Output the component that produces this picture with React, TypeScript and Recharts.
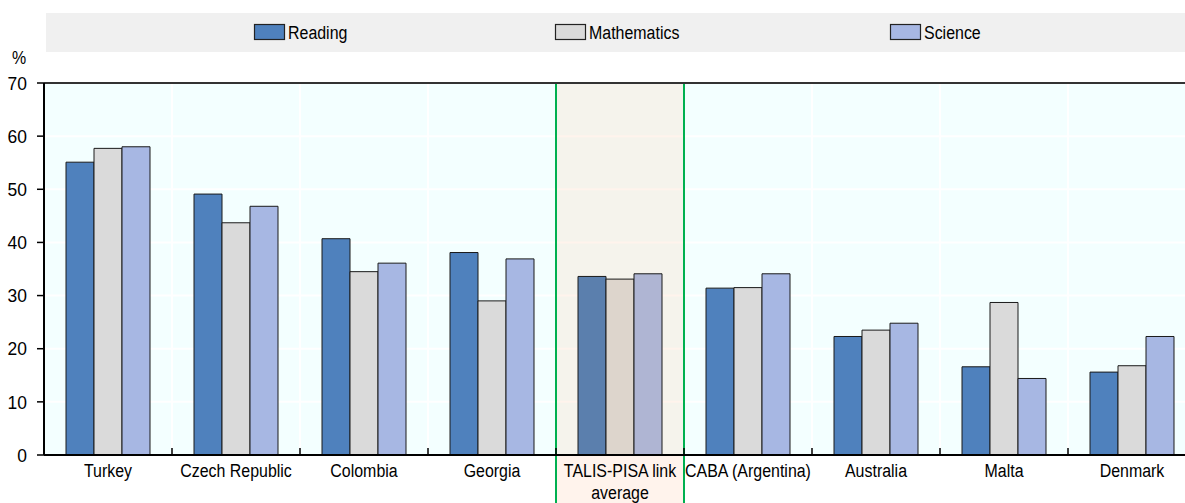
import React from 'react';
import { BarChart, Bar, XAxis, YAxis, CartesianGrid, ReferenceArea, ReferenceLine, Cell } from 'recharts';

const categories = [
  'Turkey',
  'Czech Republic',
  'Colombia',
  'Georgia',
  'TALIS-PISA link average',
  'CABA (Argentina)',
  'Australia',
  'Malta',
  'Denmark',
];
const reading = [55.1, 49.1, 40.7, 38.1, 33.6, 31.4, 22.3, 16.6, 15.6];
const mathematics = [57.7, 43.7, 34.5, 29.0, 33.1, 31.5, 23.5, 28.7, 16.8];
const science = [58.0, 46.8, 36.1, 36.9, 34.1, 34.1, 24.8, 14.4, 22.3];
const yTicks = [0, 10, 20, 30, 40, 50, 60, 70];

const averageLabel = 'TALIS-PISA link average';
const tickLines: Record<string, string[]> = {
  'TALIS-PISA link average': ['TALIS-PISA link', 'average'],
};

const series = [
  { key: 'reading', name: 'Reading', color: '#4F81BD', avgColor: '#5B7FAD' },
  { key: 'mathematics', name: 'Mathematics', color: '#DADADA', avgColor: '#DDD5CC' },
  { key: 'science', name: 'Science', color: '#A7B7E3', avgColor: '#AFB5D3' },
];

const data = categories.map((name, i) => ({
  name,
  reading: reading[i],
  mathematics: mathematics[i],
  science: science[i],
}));

const FONT = "'Liberation Sans', Arial, sans-serif";
// the source uses a condensed face; squeeze Liberation Sans horizontally
const SQUEEZE = 0.84;

const CategoryTick = (props: any) => {
  const { x, y, payload } = props;
  const half = payload.offset ?? 64;
  const lines = tickLines[payload.value] ?? [payload.value];
  return (
    <g>
      <line x1={x - half} x2={x - half} y1={y} y2={y - 7} stroke="#000" strokeWidth={1.5} />
      <text
        transform={`translate(${x},${y}) scale(${SQUEEZE},1)`}
        textAnchor="middle"
        fill="#000"
        fontSize={19}
        fontFamily={FONT}
      >
        {lines.map((l, i) => (
          <tspan key={i} x={0} dy={i === 0 ? 22 : 22}>
            {l}
          </tspan>
        ))}
      </text>
    </g>
  );
};

const ValueTick = (props: any) => {
  const { x, y, payload } = props;
  return (
    <text
      transform={`translate(${x},${y}) scale(0.92,1)`}
      textAnchor="end"
      dominantBaseline="central"
      fill="#000"
      fontSize={19}
      fontFamily={FONT}
    >
      {payload.value}
    </text>
  );
};

const legendStarts = [208, 509, 844];

const LegendBar = () => (
  <svg
    width={1144}
    height={39}
    style={{ position: 'absolute', left: 46, top: 13, display: 'block' }}
  >
    <rect x={0} y={0} width={1144} height={39} fill="#F0F0F0" />
    {series.map((s, i) => (
      <g key={s.key} transform={`translate(${legendStarts[i]},0)`}>
        <rect x={0.5} y={11.5} width={30} height={15} fill={s.color} stroke="#222" strokeWidth={1.2} />
        <text
          transform={`translate(34,26) scale(${SQUEEZE},1)`}
          fontSize={19}
          fontFamily={FONT}
          fill="#000"
        >
          {s.name}
        </text>
      </g>
    ))}
  </svg>
);

export default function App() {
  return (
    <div
      style={{
        position: 'absolute',
        left: 0,
        top: 0,
        width: 1185,
        height: 503,
        overflow: 'hidden',
        background: '#fff',
        fontFamily: FONT,
      }}
    >
      <BarChart
        width={1200}
        height={503}
        data={data}
        margin={{ top: 83, right: 4, left: 0, bottom: 0 }}
        barGap={0}
        barSize={28}
        style={{ fontFamily: FONT }}
      >
        <CartesianGrid
          fill="#F3FFFF"
          stroke="#FFFFFF"
          strokeWidth={2}
          verticalCoordinatesGenerator={({ offset }: any) =>
            categories.map((_, i) => offset.left + (i * offset.width) / categories.length)
          }
        />
        <ReferenceArea
          x1={averageLabel}
          x2={averageLabel}
          y1={-11}
          y2={70}
          ifOverflow="visible"
          fill="rgba(255, 200, 170, 0.22)"
          fillOpacity={1}
          stroke="#00B050"
          strokeWidth={2}
        />
        <XAxis
          dataKey="name"
          interval={0}
          height={48}
          tickSize={0}
          tickMargin={0}
          tickLine={false}
          axisLine={{ stroke: '#000', strokeWidth: 2 }}
          tick={<CategoryTick />}
        />
        <YAxis
          domain={[0, 70]}
          ticks={yTicks}
          width={44}
          tickSize={7}
          tickMargin={10}
          axisLine={{ stroke: '#000', strokeWidth: 2 }}
          tickLine={{ stroke: '#000', strokeWidth: 1.5 }}
          tick={<ValueTick />}
        />
        <ReferenceLine y={70} stroke="#333" strokeWidth={2} />
        {series.map((s) => (
          <Bar
            key={s.key}
            dataKey={s.key}
            name={s.name}
            fill={s.color}
            stroke="#1A1A1A"
            strokeWidth={1}
            isAnimationActive={false}
          >
            {data.map((d) => (
              <Cell key={d.name} fill={d.name === averageLabel ? s.avgColor : s.color} />
            ))}
          </Bar>
        ))}
      </BarChart>
      <LegendBar />
      <svg width={40} height={30} style={{ position: 'absolute', left: 0, top: 44 }}>
        <text
          transform={`translate(12,20) scale(${SQUEEZE},1)`}
          fontSize={19}
          fontFamily={FONT}
          fill="#000"
        >
          %
        </text>
      </svg>
    </div>
  );
}
